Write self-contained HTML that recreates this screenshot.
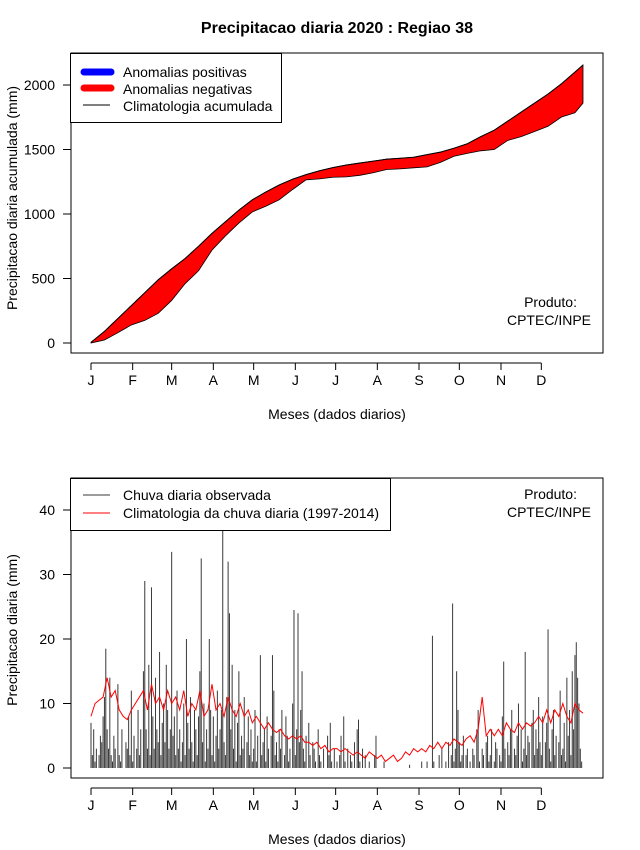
<!DOCTYPE html>
<html><head><meta charset="utf-8"><style>
body{margin:0;background:#fff}
svg{display:block;font-family:"Liberation Sans",sans-serif}
</style></head><body>
<svg id="chart" width="640" height="850" viewBox="0 0 640 850" xmlns="http://www.w3.org/2000/svg">
<rect width="640" height="850" fill="#fff"/>
<text x="337" y="33" text-anchor="middle" font-size="16" font-weight="bold">Precipitacao diaria 2020 : Regiao 38</text>
<g id="topPanel"></g>
<g id="botPanel"></g>
</svg>
<script>
const monthLabels = ["J","F","M","A","M","J","J","A","S","O","N","D"];
const monthStartDays = [0,31,60,91,121,152,182,213,244,274,305,335];
const accDays = [0,10,20,30,40,50,60,70,80,90,100,110,120,130,140,150,160,170,180,190,200,210,220,230,240,250,260,270,280,290,300,310,320,330,340,350,360,366];
const accClim = [5,90,190,290,390,490,575,655,750,850,940,1030,1110,1170,1225,1270,1305,1335,1360,1380,1395,1410,1425,1432,1440,1460,1480,1510,1545,1600,1650,1720,1790,1860,1930,2010,2100,2155];
const accObs = [0,23,80,140,175,230,330,460,560,720,830,930,1016,1060,1110,1190,1265,1272,1285,1288,1300,1320,1345,1350,1358,1365,1400,1448,1470,1490,1500,1570,1600,1640,1680,1752,1785,1860];
const accTicks = [0,500,1000,1500,2000];
const dailyObs = [
7,2,6,1,3,0,2,5,4,8,11,18.5,6,3,14,2,1,5,3,0,13,2,1,6,0,0,4,3,8,2,12,
1,5,0,3,9,2,6,0,15,29,6,3,16,2,28,8,3,14,6,4,18,2,7,10,4,16,9,3,6,
33.5,5,8,2,12,3,6,1,4,10,2,20,7,3,11,4,1,9,6,2,8,15,32.5,4,10,1,6,3,20,9,2,
8,1,5,12,3,6,9,41,4,2,11,32,24,6,16,3,9,1,7,15,2,5,3,11,0,4,8,2,6,1,
3,9,1,5,0,17.5,2,4,6,1,8,3,0,5,17.5,12,2,4,1,6,3,9,0,2,8,5,1,3,0,10,24.5,
2,6,24,4,9,15,3,1,5,0,7,2,0,4,3,1,0,6,2,1,0,3,0,0,5,2,7,1,0,3,
0,1,0,2,5,0,8,1,0,3,0,2,1,0,4,0,6,7.5,1,0,3,0,2,0,0,1,0,0,0,2,5,
0,0,0,0,0,1,0,0,0,0,0,0,0,0,0,0,0,0,0,0,0,0,0,0,0.5,0,0,0,0,0,0,
0,0,1,0,0,0,1,0,0,0,20.5,1,0,0,0,2,0,3,0,0,1,0,4,0,2,25.5,1,3,15,9,
4,1,2,5,0,2,3,0,1,0,3,2,0,6,9,1,0,3,2,0,4,5,1,2,6,0,1,4,3,0,2,
1,8,16.5,3,0,4,2,6,9,0,3,2,5,10,0,6,1,3,18,2,5,4,0,7,9,2,6,3,11,4,
2,8,0,4,7,21.5,3,1,6,9,2,5,0,4,12,2,3,7,1,14,5,9,2,15,6,17.5,19.5,14,10,3,1];
const climStep = 3;
const dailyClim = [8,10,10.5,11,14,11,12,9,8,7.5,9,
10,11,12,9,13,10,11,9,12,10,
11,9,12,8,10,9,12,8,9,13,
9,10,8,11,9,8,10,8,9,7,
8,7,6,7,6,5.5,6,5,4.5,5,
4.5,5,4,4,3.5,4,3,3.5,2.5,3,
3,2.5,3,2.5,2,2.5,2,1.5,2.5,2,
1.5,2,1,1.5,2,1,1.5,2.5,2,3,
2.5,3,2.5,3.5,3,4,3,4,3.5,4.5,
4,3.5,4.5,5,4,6,11,5,6,5,
6,5,7,6,5.5,7,6,7,6.5,7,
8,7,9,7,9,8,10,8,7,10,9,8.5];
const dailyTicks = [0,10,20,30,40];

const NS="http://www.w3.org/2000/svg";
function el(tag, attrs, parent, txt){const e=document.createElementNS(NS,tag);for(const k in attrs)e.setAttribute(k,attrs[k]);if(txt!==undefined)e.textContent=txt;parent.appendChild(e);return e;}
const xDay = d => 91 + d*(583-91)/366;
const yAcc = v => 343 - v*(343-85)/2000;
const yDay = v => 768 - v*(768-510)/40;

function axes(g, t0, b0, ticks, yf, ylabel, ylabelY){
  const box=el('rect',{x:71,y:t0,width:532,height:b0-t0,fill:'none',stroke:'#000','stroke-width':1},g);
  
  
  el('line',{x1:xDay(0),x2:xDay(monthStartDays[11]),y1:b0+10,y2:b0+10,stroke:'#000'},g);
  monthStartDays.forEach((d,i)=>{
    const t=el('line',{x1:xDay(d),x2:xDay(d),y1:b0+10,y2:b0+17,stroke:'#000'},g);
    
    
    const l=el('text',{x:xDay(d),y:b0+32,'text-anchor':'middle','font-size':14},g,monthLabels[i]);
    
    
  });
  el('line',{x1:71,x2:71,y1:yf(ticks[0]),y2:yf(ticks[ticks.length-1]),stroke:'#000'},g);
  ticks.forEach(v=>{
    const t=el('line',{x1:63,x2:71,y1:yf(v),y2:yf(v),stroke:'#000'},g);
    
    
    const l=el('text',{x:55,y:yf(v)+5,'text-anchor':'end','font-size':14},g,String(v));
    
    
  });
  const xt=el('text',{x:337,y:b0+66,'text-anchor':'middle','font-size':14},g,'Meses (dados diarios)');
  
  
  const yt=el('text',{x:0,y:0,'text-anchor':'middle','font-size':14,transform:`translate(17,${ylabelY}) rotate(-90)`},g,ylabel);
  
  
}

const topG=document.getElementById('topPanel');
const climPts=accDays.map((d,i)=>`${xDay(d)},${yAcc(accClim[i])}`);
const obsPts=accDays.map((d,i)=>`${xDay(d)},${yAcc(accObs[i])}`).reverse();
const band=el('polygon',{points:climPts.concat(obsPts).join(' '),fill:'#ff0000',stroke:'#000','stroke-width':0.8},topG);


const climLine=el('polyline',{points:climPts.join(' '),fill:'none',stroke:'#000','stroke-width':1},topG);


axes(topG,53,353,accTicks,yAcc,'Precipitacao diaria acumulada (mm)',198);

const botG=document.getElementById('botPanel');
dailyObs.forEach((v,i)=>{
  const b=el('line',{x1:xDay(i),x2:xDay(i),y1:yDay(0),y2:yDay(v),stroke:'#3a3a3a','stroke-width':1},botG);
  
  
});
const cl=el('polyline',{points:dailyClim.map((v,i)=>`${xDay(i*climStep)},${yDay(v)}`).join(' '),fill:'none',stroke:'#ff0000','stroke-width':1},botG);


axes(botG,478,778,dailyTicks,yDay,'Precipitacao diaria (mm)',630);
</script>
<svg style="position:absolute;left:0;top:0" width="640" height="850" font-family="Liberation Sans, sans-serif">
<g>
<rect x="70.5" y="53.5" width="211" height="69" fill="#fff" stroke="#000"/>
<line x1="84" x2="111" y1="72" y2="72" stroke="#0000ff" stroke-width="7" stroke-linecap="round"/>
<text x="123" y="77" font-size="14">Anomalias positivas</text>
<line x1="84" x2="111" y1="88" y2="88" stroke="#ff0000" stroke-width="7" stroke-linecap="round"/>
<text x="123" y="94" font-size="14">Anomalias negativas</text>
<line x1="83" x2="110" y1="105" y2="105" stroke="#000"/>
<text x="123" y="111" font-size="14">Climatologia acumulada</text>
</g>
<text x="577" y="307" font-size="14" text-anchor="end">Produto:</text>
<text x="591" y="325" font-size="14" text-anchor="end">CPTEC/INPE</text>
<g>
<rect x="70.5" y="478.5" width="320" height="52" fill="#fff" stroke="#000"/>
<line x1="83" x2="110" y1="495" y2="495" stroke="#3a3a3a"/>
<text x="123" y="500" font-size="14">Chuva diaria observada</text>
<line x1="83" x2="110" y1="513" y2="513" stroke="#ff0000"/>
<text x="123" y="518" font-size="14">Climatologia da chuva diaria (1997-2014)</text>
</g>
<text x="577" y="499" font-size="14" text-anchor="end">Produto:</text>
<text x="591" y="517" font-size="14" text-anchor="end">CPTEC/INPE</text>
</svg>
</body></html>
